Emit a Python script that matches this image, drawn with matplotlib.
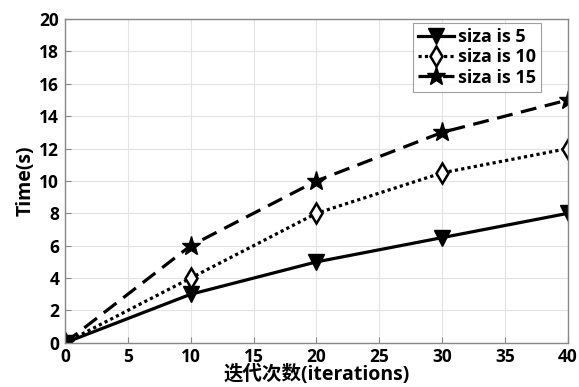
import numpy as np
import matplotlib
matplotlib.use('Agg')
import matplotlib.pyplot as plt

plt.rcParams['font.family'] = ['Open Sans', 'Noto Sans CJK SC', 'DejaVu Sans']
plt.rcParams['font.weight'] = 'bold'

iterations = [0, 10, 20, 30, 40]
size5 = [0, 3, 5, 6.5, 8]
size10 = [0, 4, 8, 10.5, 12]
size15 = [0, 6, 10, 13, 15]
labels = ['siza is 5', 'siza is 10', 'siza is 15']

fig = plt.figure(figsize=(5.79, 3.87), dpi=100)
ax = fig.add_axes([0.112, 0.114, 0.869, 0.837])

ax.plot(iterations, size5, '-', color='black', lw=2.3, marker='v', ms=11,
        mfc='black', mec='black', label=labels[0])
ax.plot(iterations, size10, ':', color='black', lw=2.3, marker='d', ms=10,
        mfc='white', mec='black', mew=1.8, label=labels[1], dashes=(1, 1))
ax.plot(iterations, size15, '--', color='black', lw=2.3, marker='*', ms=14,
        mfc='black', mec='black', label=labels[2], dashes=(5, 2.7))

ax.set_xlim(0, 40)
ax.set_ylim(0, 20)
ax.set_xticks(np.arange(0, 41, 5))
ax.set_yticks(np.arange(0, 21, 2))
ax.grid(True, color='#e3e3e3', lw=0.8)
ax.set_axisbelow(True)
for s in ax.spines.values():
    s.set_color('#888888')
    s.set_linewidth(1.0)
ax.tick_params(direction='in', length=4, color='#888888', labelsize=12.5)
ax.tick_params(axis='x', pad=4)
ax.tick_params(axis='y', pad=4)
for lab in ax.get_xticklabels() + ax.get_yticklabels():
    lab.set_fontweight('bold')

ax.set_xlabel('迭代次数(iterations)', fontsize=14, fontweight='bold', labelpad=-1)
ax.set_ylabel('Time(s)', fontsize=14, fontweight='bold', labelpad=3)

leg = ax.legend(loc='upper right', bbox_to_anchor=(0.947, 0.988), borderaxespad=0,
                fontsize=13, frameon=True, fancybox=False, edgecolor='#888888',
                handlelength=2.0, handletextpad=0.2, borderpad=0.3, labelspacing=0.12)
leg.get_frame().set_linewidth(0.8)
for t in leg.get_texts():
    t.set_fontweight('bold')

fig.savefig('out.png', dpi=100)
